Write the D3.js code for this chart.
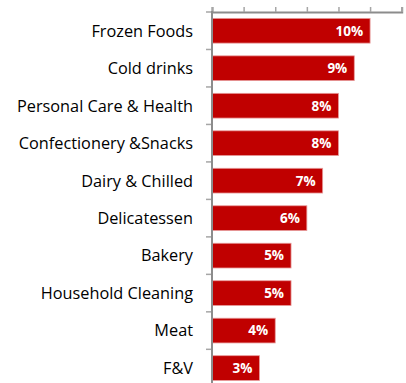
<!DOCTYPE html>
<html><head><meta charset="utf-8">
<script src="https://cdn.jsdelivr.net/npm/d3@7"></script>
<style>html,body{margin:0;padding:0;background:#fff;}svg{display:block;}</style>
</head><body>
<script>
const categories = ["Frozen Foods","Cold drinks","Personal Care & Health","Confectionery &Snacks","Dairy & Chilled","Delicatessen","Bakery","Household Cleaning","Meat","F&V"];
const values = [10,9,8,8,7,6,5,5,4,3];
const labels = ["10%","9%","8%","8%","7%","6%","5%","5%","4%","3%"];
const xTicks = [0,2,4,6,8,10,12];

const W=406,H=383;
const svg=d3.select("body").append("svg").attr("width",W).attr("height",H);
const x=d3.scaleLinear().domain([0,12]).range([212,401.7]);
const y=d3.scaleBand().domain(categories).range([12,386.8]).paddingInner(0.34).paddingOuter(0.17);
const step=y.step();

// category tick marks
const bounds=d3.range(categories.length+1).map(i=>12+i*step);
svg.append("g").selectAll("line").data(bounds).join("line")
  .attr("x1",206).attr("x2",212).attr("y1",d=>d).attr("y2",d=>d)
  .attr("stroke","#a6a6a6").attr("stroke-width",1.5);

// bars
svg.append("g").selectAll("rect").data(values).join("rect")
  .attr("x",x(0)).attr("y",(d,i)=>y(categories[i]))
  .attr("width",d=>x(d)-x(0)).attr("height",y.bandwidth())
  .attr("fill","#c00000").attr("stroke","#e79a9a").attr("stroke-width",0.8);

// value labels
svg.append("g").selectAll("text").data(values).join("text")
  .attr("x",d=>x(d)-7).attr("y",(d,i)=>y(categories[i])+y.bandwidth()/2)
  .attr("dy","0.36em").attr("text-anchor","end")
  .attr("font-family","'Open Sans', sans-serif").attr("font-weight","bold").attr("font-size",13.5)
  .attr("fill","#fff").text((d,i)=>labels[i]);

// category labels
svg.append("g").selectAll("text").data(categories).join("text")
  .attr("x",193).attr("y",d=>y(d)+y.bandwidth()/2)
  .attr("dy","0.36em").attr("text-anchor","end")
  .attr("font-family","'Open Sans', sans-serif").attr("font-size",16.3)
  .attr("fill","#000").text(d=>d);

// top axis
const axis=d3.axisTop(x).tickValues(xTicks).tickSize(5).tickFormat("");
const g=svg.append("g").attr("transform","translate(0,12)").call(axis);
g.select(".domain").attr("stroke","#8c8c8c").attr("stroke-width",2);
g.selectAll(".tick line").attr("stroke","#a6a6a6").attr("stroke-width",1.5);

// vertical axis line
svg.append("line").attr("x1",212).attr("x2",212).attr("y1",11).attr("y2",H)
  .attr("stroke","#8c8c8c").attr("stroke-width",2);
</script>
</body></html>
